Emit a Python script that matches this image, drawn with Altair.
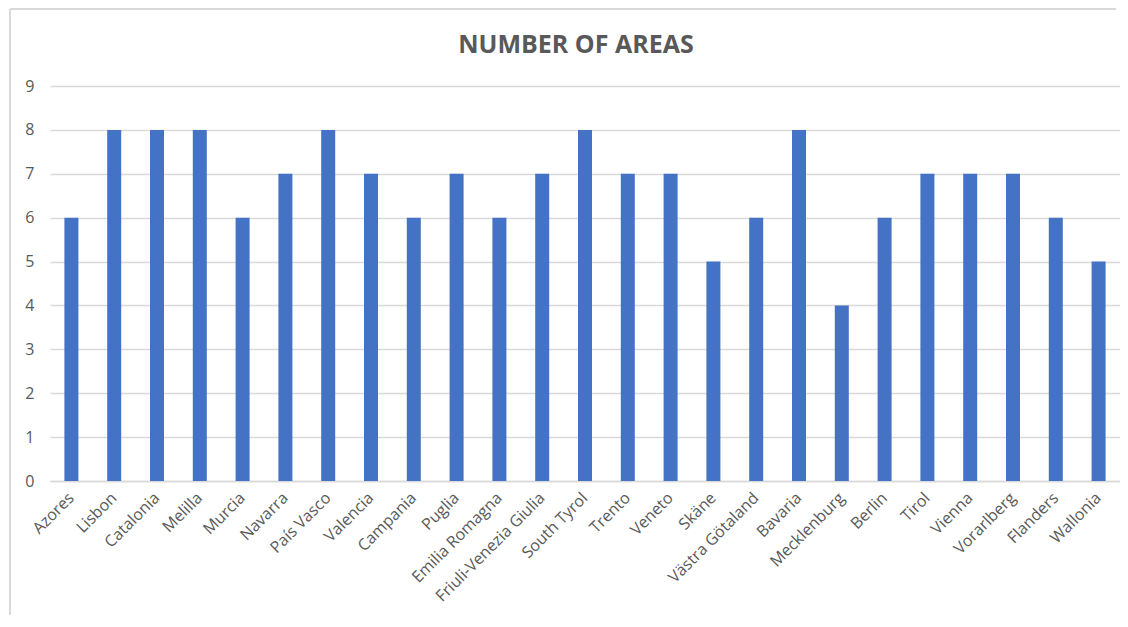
import altair as alt
import pandas as pd

regions = ["Azores", "Lisbon", "Catalonia", "Melilla", "Murcia", "Navarra", "País Vasco",
           "Valencia", "Campania", "Puglia", "Emilia Romagna", "Friuli-Venezia Giulia",
           "South Tyrol", "Trento", "Veneto", "Skäne", "Västra Götaland", "Bavaria",
           "Mecklenburg", "Berlin", "Tirol", "Vienna", "Vorarlberg", "Flanders", "Wallonia"]
areas = [6, 8, 8, 8, 6, 7, 8, 7, 6, 7, 6, 7, 8, 7, 7, 5, 6, 8, 4, 6, 7, 7, 7, 6, 5]
y_ticks = list(range(0, 10))

df = pd.DataFrame({"region": regions, "areas": areas})

FONT = "Open Sans"
GREY = "#595959"
GRID = "#D9D9D9"

bars = alt.Chart(df).mark_bar(width=14, color="#4472C4").encode(
    x=alt.X("region:N", sort=regions,
            scale=alt.Scale(paddingInner=0, paddingOuter=0),
            axis=alt.Axis(title=None, labelAngle=-45, labelAlign="right", labelBaseline="middle",
                          labelPadding=14, ticks=False, domainColor=GRID, domainWidth=1.5,
                          labelColor=GREY, labelFont=FONT, labelFontSize=16, labelLimit=300)),
    y=alt.Y("areas:Q", scale=alt.Scale(domain=[0, 9], nice=False),
            axis=alt.Axis(title=None, values=y_ticks, ticks=False, domain=False,
                          gridColor=GRID, gridWidth=1.5, labelPadding=16,
                          labelColor=GREY, labelFont=FONT, labelFontSize=16)),
)

frame_df = pd.DataFrame({"a": [0]})
frame_top = alt.Chart(frame_df).mark_rule(color=GRID, strokeWidth=2).encode(
    x=alt.value(-40), x2=alt.value(1066), y=alt.value(-77), y2=alt.value(-77))
frame_left = alt.Chart(frame_df).mark_rule(color=GRID, strokeWidth=2).encode(
    x=alt.value(-40), x2=alt.value(-40), y=alt.value(-77), y2=alt.value(800))

chart = alt.layer(frame_top, frame_left, bars).properties(
    width=1070, height=395,
    title=alt.TitleParams("NUMBER OF AREAS", font=FONT, fontSize=25, fontWeight="bold",
                          color=GREY, anchor="middle", offset=-50, dx=-9),
    autosize=alt.AutoSizeParams(type="none"),
    padding={"left": 42, "top": 78, "right": 0, "bottom": 134},
).configure_view(stroke=None)

chart.save("out.html", embed_options={"renderer": "svg", "actions": False})
